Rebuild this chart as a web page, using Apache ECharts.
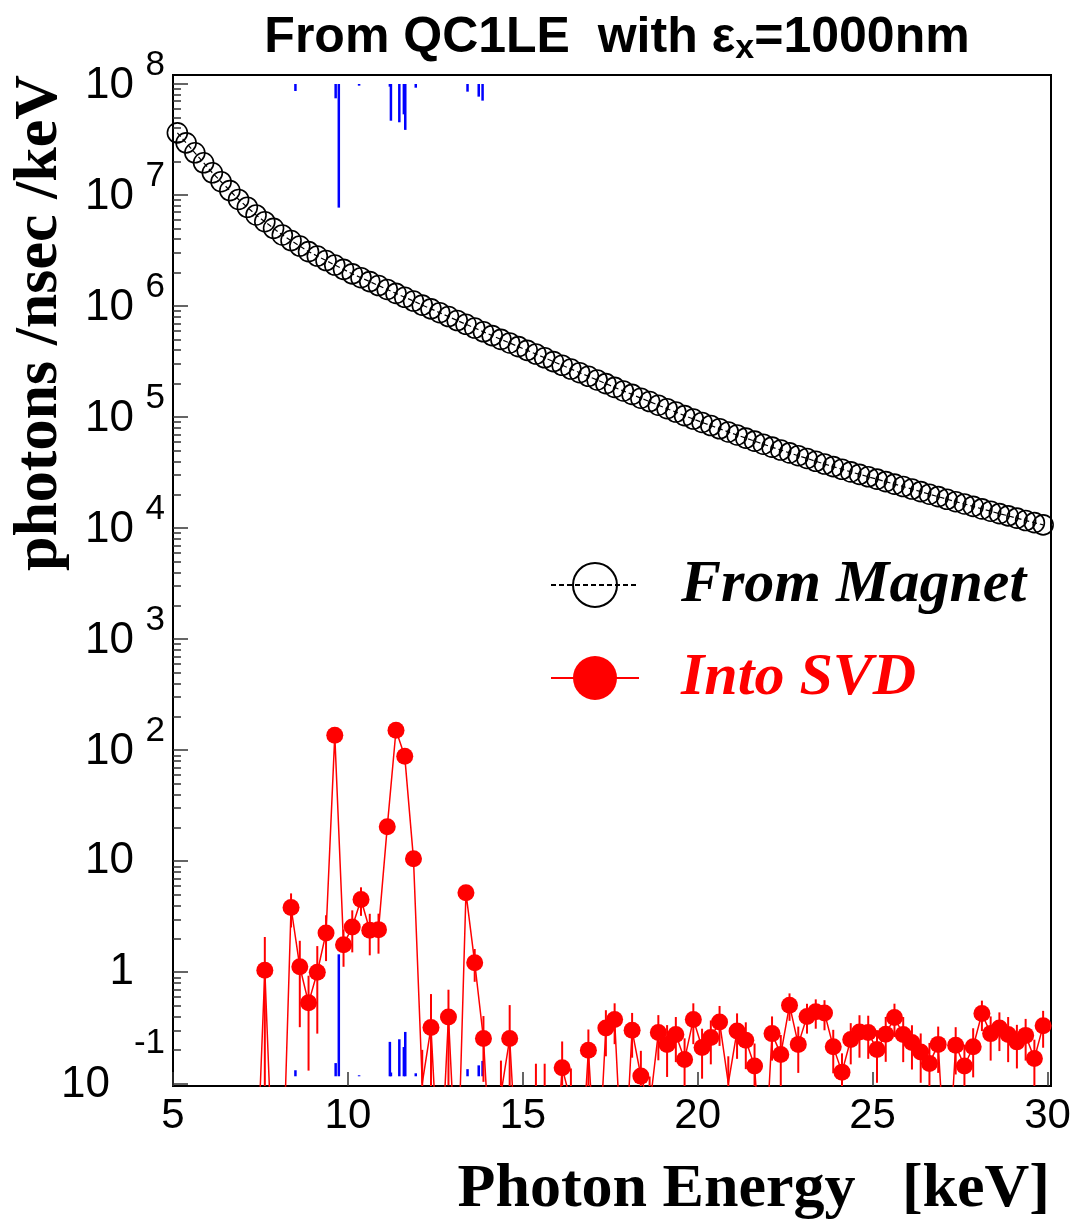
<!DOCTYPE html>
<html><head><meta charset="utf-8">
<script src="https://cdn.jsdelivr.net/npm/echarts@6/dist/echarts.min.js"></script>
<style>html,body{margin:0;padding:0;background:#fff}#c{width:1076px;height:1222px}</style>
</head><body><div id="c"></div>
<script>
// ---- data ----
const energy = [5.125,5.375,5.625,5.875,6.125,6.375,6.625,6.875,7.125,7.375,
7.625,7.875,8.125,8.375,8.625,8.875,9.125,9.375,9.625,9.875,
10.125,10.375,10.625,10.875,11.125,11.375,11.625,11.875,12.125,12.375,
12.625,12.875,13.125,13.375,13.625,13.875,14.125,14.375,14.625,14.875,
15.125,15.375,15.625,15.875,16.125,16.375,16.625,16.875,17.125,17.375,
17.625,17.875,18.125,18.375,18.625,18.875,19.125,19.375,19.625,19.875,
20.125,20.375,20.625,20.875,21.125,21.375,21.625,21.875,22.125,22.375,
22.625,22.875,23.125,23.375,23.625,23.875,24.125,24.375,24.625,24.875,
25.125,25.375,25.625,25.875,26.125,26.375,26.625,26.875,27.125,27.375,
27.625,27.875,28.125,28.375,28.625,28.875,29.125,29.375,29.625,29.875];

const fromMagnet = [3.63e7,2.95e7,2.40e7,1.95e7,1.585e7,1.318e7,1.096e7,9.12e6,7.76e6,6.61e6,
5.75e6,5.01e6,4.37e6,3.89e6,3.47e6,3.09e6,2.82e6,2.57e6,2.34e6,2.14e6,
1.95e6,1.80e6,1.66e6,1.53e6,1.41e6,1.30e6,1.20e6,1.11e6,1.02e6,9.44e5,
8.71e5,8.04e5,7.41e5,6.85e5,6.34e5,5.86e5,5.42e5,5.01e5,4.65e5,4.31e5,
3.99e5,3.70e5,3.42e5,3.16e5,2.93e5,2.71e5,2.51e5,2.33e5,2.16e5,2.00e5,
1.85e5,1.72e5,1.60e5,1.48e5,1.38e5,1.28e5,1.19e5,1.11e5,1.03e5,9.6e4,
8.95e4,8.4e4,7.85e4,7.35e4,6.9e4,6.47e4,6.07e4,5.7e4,5.36e4,5.05e4,
4.76e4,4.49e4,4.24e4,4.0e4,3.78e4,3.58e4,3.39e4,3.21e4,3.05e4,2.90e4,
2.76e4,2.62e4,2.49e4,2.37e4,2.25e4,2.13e4,2.02e4,1.92e4,1.82e4,1.73e4,
1.65e4,1.57e4,1.49e4,1.42e4,1.35e4,1.29e4,1.23e4,1.17e4,1.12e4,1.07e4];

const intoSVD = [0,0,0,0,0,0,0,0,0,0,
1.04,0,0,3.83,1.12,0.53,1.0,2.26,136,1.77,
2.56,4.52,2.39,2.42,20.4,151,88,10.5,0.1,0.318,
0,0.396,0,5.19,1.22,0.253,0,0.08,0.253,0,
0,0.075,0.075,0,0.138,0.068,0,0.198,0,0.315,
0.375,0,0.30,0.116,0.06,0.286,0.224,0.275,0.164,0.375,
0.21,0.258,0.357,0.1,0.296,0.244,0.143,0,0.28,0.182,
0.505,0.224,0.40,0.44,0.43,0.213,0.126,0.248,0.29,0.286,
0.201,0.276,0.391,0.275,0.233,0.191,0.151,0.224,0,0.22,
0.143,0.213,0.425,0.28,0.315,0.275,0.236,0.27,0.167,0.329];

const intoSVDErr = [0,0,0,0,0,0,0,0,0,0,
1.04,0,0,1.3,0.8,0.4,0.72,1.0,12,0.65,
1.05,1.3,0.97,0.95,3,10,7,1.5,0.1,0.318,
0,0.3,0,0.8,0.4,0.15,0,0.08,0.253,0,
0,0.075,0.075,0,0.1,0.068,0,0.107,0,0.14,
0.15,0,0.13,0.08,0.055,0.125,0.11,0.12,0.09,0.15,
0.1,0.11,0.14,0.075,0.13,0.11,0.085,0,0.12,0.09,
0.14,0.1,0.12,0.13,0.13,0.09,0.06,0.1,0.12,0.12,
0.1,0.12,0.13,0.12,0.1,0.09,0.08,0.1,0,0.1,
0.08,0.1,0.13,0.12,0.12,0.12,0.1,0.11,0.08,0.12];

// blue spikes: x, lower end of the spike hanging from 1e8, upper end of the spike rising from the floor
const blueX        = [8.5, 9.65, 9.74, 10.32, 11.2, 11.23, 11.47, 11.6, 11.64, 11.94, 13.42, 13.74, 13.85];
const blueTopLow   = [8.65e7, 7.43e7, 7.7e6, 9.66e7, 9.46e7, 4.67e7, 4.52e7, 5.33e7, 3.86e7, 9.26e7, 8.53e7, 7.69e7, 7.08e7];
const blueBotHigh  = [0.131, 0.152, 1.45, 0.118, 0.236, 0.125, 0.249, 0.212, 0.29, 0.123, 0.134, 0.145, 0.159];
const blueTopStart = 1e8;
const blueBotStart = 0.1156;

const xTicks = [5, 10, 15, 20, 25, 30];
const yMajor = [0.1, 1, 10, 1e2, 1e3, 1e4, 1e5, 1e6, 1e7, 1e8];
const yMinor = [0.2,0.3,0.4,0.5,0.6,0.7,0.8,0.9,
  2,3,4,5,6,7,8,9, 20,30,40,50,60,70,80,90,
  200,300,400,500,600,700,800,900,
  2e3,3e3,4e3,5e3,6e3,7e3,8e3,9e3, 2e4,3e4,4e4,5e4,6e4,7e4,8e4,9e4,
  2e5,3e5,4e5,5e5,6e5,7e5,8e5,9e5, 2e6,3e6,4e6,5e6,6e6,7e6,8e6,9e6,
  2e7,3e7,4e7,5e7,6e7,7e7,8e7,9e7];

// ---- build ----
const ZERO_FLOOR = 0.01;   // empty bins are drawn off the bottom like in the log plot
const Y_MIN = 0.0945, Y_MAX = 1.205e8;

const magnetData = energy.map((e, i) => [e, fromMagnet[i]]);
const svdData = energy.map((e, i) => {
  const v = intoSVD[i];
  return { value: [e, v > 0 ? v : ZERO_FLOOR], symbolSize: v > 0.1 ? 17 : 0 };
});
const errData = [];
energy.forEach((e, i) => {
  const v = intoSVD[i], er = intoSVDErr[i];
  if (v > 0 && er > 0) errData.push([e, Math.max(v - er, ZERO_FLOOR), v + er]);
});
const blueData = [];
blueX.forEach((x, i) => {
  blueData.push([x, blueTopStart, blueTopLow[i]]);
  blueData.push([x, blueBotStart, blueBotHigh[i]]);
});

function segRenderer(color, width) {
  return function (params, api) {
    const cs = params.coordSys;
    const x = api.value(0);
    const p1 = api.coord([x, api.value(1)]);
    const p2 = api.coord([x, api.value(2)]);
    return {
      type: 'line',
      shape: { x1: p1[0], y1: p1[1], x2: p2[0], y2: p2[1] },
      style: { stroke: color, lineWidth: width },
      clipPath: { type: 'rect', shape: { x: cs.x, y: cs.y, width: cs.width, height: cs.height } }
    };
  };
}

const SANS = '"Liberation Sans", Arial, Helvetica, sans-serif';
const SERIF = '"Liberation Serif", "Times New Roman", serif';

function yLabel(v) {
  const ex = Math.round(Math.log10(v));
  if (ex === 0) return '{b1|1}{sp| }';
  if (ex === 1) return '{b1|10}{sp| }';
  if (ex === -1) return '{s|-1}\n{b2|10}{sp2| }';
  return '{s|' + ex + '}\n{b|10}{sp| }';
}

const chart = echarts.init(document.getElementById('c'), null, { renderer: 'canvas' });
chart.setOption({
  animation: false,
  backgroundColor: '#fff',
  grid: { left: 173, right: 25, top: 75, bottom: 136, show: true, borderColor: '#000', borderWidth: 2, backgroundColor: 'transparent', containLabel: false, outerBoundsMode: 'none' },
  legend: {
    orient: 'vertical', left: 550, top: 555, padding: 0, itemWidth: 88, itemHeight: 55, itemGap: 33,
    data: [
      { name: 'From Magnet', textStyle: { color: '#000' } },
      { name: 'Into SVD', textStyle: { color: '#ff0000' } }
    ],
    textStyle: { fontFamily: SERIF, fontWeight: 'bold', fontStyle: 'italic', fontSize: 60, padding: [0, 0, 0, 37] },
    selectedMode: false
  },
  xAxis: {
    type: 'value', min: 5, max: 30.1,
    axisLine: { show: true, lineStyle: { color: '#000', width: 2 } },
    axisTick: { inside: true, length: 14, customValues: xTicks, lineStyle: { color: '#333', width: 1.5 } },
    axisLabel: { customValues: xTicks, fontFamily: SANS, fontSize: 42, color: '#000', margin: 9 },
    splitLine: { show: false }
  },
  yAxis: [{
    type: 'log', logBase: 10, min: Y_MIN, max: Y_MAX,
    axisLine: { show: true, lineStyle: { color: '#000', width: 2 } },
    axisTick: { inside: true, length: 15, customValues: yMajor, lineStyle: { color: '#333', width: 1.5 } },
    axisLabel: {
      customValues: yMajor, margin: 8, formatter: yLabel,
      rich: {
        b: { fontFamily: SANS, fontSize: 44, lineHeight: 38, color: '#000' },
        b1: { fontFamily: SANS, fontSize: 44, lineHeight: 50, color: '#000' },
        b2: { fontFamily: SANS, fontSize: 44, lineHeight: 80, color: '#000' },
        s: { fontFamily: SANS, fontSize: 35, lineHeight: 4, color: '#000' },
        sp: { width: 31, fontSize: 10 },
        sp2: { width: 55, fontSize: 10 }
      }
    },
    splitLine: { show: false }
  }, {
    type: 'log', logBase: 10, min: Y_MIN, max: Y_MAX, position: 'left',
    axisLine: { show: false },
    axisTick: { inside: true, length: 8, customValues: yMinor, lineStyle: { color: '#333', width: 1.5 } },
    axisLabel: { show: false },
    splitLine: { show: false }
  }],
  series: [
    { name: 'blue', type: 'custom', renderItem: segRenderer('#0000ff', 2.5), data: blueData, encode: { x: 0, y: [1, 2] }, z: 2, silent: true },
    { name: 'From Magnet', type: 'line', data: magnetData, symbol: 'circle', symbolSize: 20,
      itemStyle: { color: 'rgba(0,0,0,0)', borderColor: '#000', borderWidth: 1.6 },
      lineStyle: { color: '#000', width: 1.2, type: [5, 3] }, clip: true, z: 3 },
    { name: 'svdErr', type: 'custom', renderItem: segRenderer('#ff0000', 2), data: errData, encode: { x: 0, y: [1, 2] }, z: 4, silent: true },
    { name: 'Into SVD', type: 'line', data: svdData, symbol: 'circle',
      itemStyle: { color: '#ff0000' }, lineStyle: { color: '#ff0000', width: 1.5 }, clip: true, z: 5 }
  ],
  graphic: [
    { type: 'text', x: 617, y: 38, style: {
        text: '{a|From QC1LE  with ε}{sub|x}{a|=1000nm}', align: 'center', verticalAlign: 'middle',
        rich: { a: { fontFamily: SANS, fontWeight: 'bold', fontSize: 50, fill: '#000' },
                sub: { fontFamily: SANS, fontWeight: 'bold', fontSize: 34, fill: '#000', padding: [22, 0, 0, 0] } } } },
    { type: 'text', x: 1050, y: 1190, style: { text: 'Photon Energy   [keV]', align: 'right', verticalAlign: 'middle',
        fontFamily: SERIF, fontWeight: 'bold', fontSize: 62, fill: '#000' } },
    { type: 'text', x: 40, y: 75, rotation: Math.PI / 2, style: { text: 'photons /nsec /keV', align: 'right', verticalAlign: 'middle',
        fontFamily: SERIF, fontWeight: 'bold', fontSize: 62, fill: '#000' } }
  ]
});
</script></body></html>
